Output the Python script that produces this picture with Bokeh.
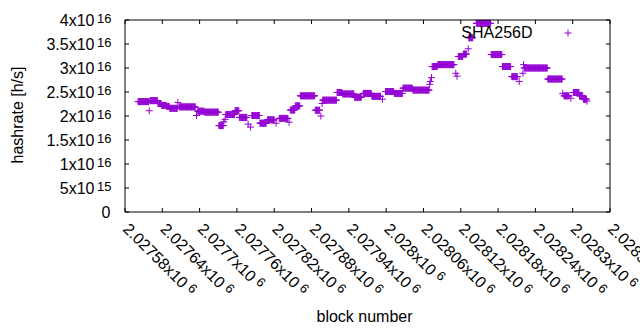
import numpy as np
from bokeh.plotting import figure
from bokeh.models import Range1d
from bokeh.core.properties import value
from bokeh.embed import file_html
from bokeh.resources import INLINE

# ---------------- data ----------------
# runs of consecutive blocks that share the same hashrate estimate
run_first_block = [2027601, 2027620, 2027633, 2027639, 2027647, 2027652, 2027667, 2027697,
                   2027708, 2027731, 2027742, 2027757, 2027764, 2027784, 2027797, 2027809,
                   2027828, 2027846, 2027854, 2027862, 2027886, 2027898, 2027921, 2027930,
                   2027949, 2027963, 2027977, 2027999, 2028013, 2028027, 2028043, 2028074,
                   2028083, 2028116, 2028124, 2028133, 2028145, 2028169, 2028187, 2028202,
                   2028222, 2028260, 2028286, 2028301, 2028311, 2028317]
run_last_block = [2027618, 2027632, 2027638, 2027646, 2027651, 2027664, 2027693, 2027707,
                  2027730, 2027738, 2027756, 2027763, 2027776, 2027796, 2027807, 2027820,
                  2027842, 2027853, 2027861, 2027885, 2027893, 2027920, 2027929, 2027948,
                  2027960, 2027976, 2027991, 2028012, 2028026, 2028042, 2028069, 2028082,
                  2028109, 2028123, 2028129, 2028139, 2028168, 2028186, 2028200, 2028211,
                  2028259, 2028283, 2028294, 2028310, 2028316, 2028322]
run_hashrate_e16 = [2.30, 2.32, 2.26, 2.22, 2.20, 2.16, 2.19, 2.10,
                    2.08, 1.80, 2.03, 2.11, 1.97, 2.01, 1.85, 1.92,
                    1.95, 2.125, 2.21, 2.42, 2.12, 2.33, 2.49, 2.46,
                    2.39, 2.47, 2.41, 2.51, 2.47, 2.58, 2.54, 3.03,
                    3.07, 3.24, 3.29, 3.63, 3.93, 3.28, 3.03, 2.82,
                    3.00, 2.77, 2.42, 2.49, 2.42, 2.35]
# isolated blocks
single_block = [2027619, 2027665, 2027695, 2027739, 2027741, 2027778, 2027782, 2027823,
                2027844, 2027895, 2027897, 2027994, 2028070, 2028071, 2028073, 2028112,
                2028114, 2028132, 2028214, 2028220, 2028221, 2028284, 2028297, 2028323]
single_hashrate_e16 = [2.11, 2.28, 2.01, 1.88, 1.93, 1.83, 1.77, 1.85,
                       1.87, 2.00, 2.26, 2.35, 2.66, 2.72, 2.80, 2.89,
                       2.83, 3.40, 2.72, 2.89, 3.07, 2.47, 2.37, 2.31]

series_name = "SHA256D"

x_tick_values = [2027580, 2027640, 2027700, 2027760, 2027820, 2027880, 2027940,
                 2028000, 2028060, 2028120, 2028180, 2028240, 2028300, 2028360]
x_tick_mantissa = ["2.02758", "2.02764", "2.0277", "2.02776", "2.02782", "2.02788", "2.02794",
                   "2.028", "2.02806", "2.02812", "2.02818", "2.02824", "2.0283", "2.02836"]
x_tick_exponent = "6"
y_tick_values = [0, 5e15, 1e16, 1.5e16, 2e16, 2.5e16, 3e16, 3.5e16, 4e16]
y_tick_mantissa = ["0", "5", "1", "1.5", "2", "2.5", "3", "3.5", "4"]
y_tick_exponent = ["", "15", "16", "16", "16", "16", "16", "16", "16"]

x_title = "block number"
y_title = "hashrate [h/s]"

# ---------------- build point list ----------------
blocks, rates = [], []
for a, b, v in zip(run_first_block, run_last_block, run_hashrate_e16):
    for blk in range(a, b + 1):
        blocks.append(blk)
        rates.append(v * 1e16)
for blk, v in zip(single_block, single_hashrate_e16):
    blocks.append(blk)
    rates.append(v * 1e16)

# ---------------- layout (pixels on the canvas) ----------------
FONT = "Liberation Sans"
FS = 16
SUP = 13
COLOR = "#9400D3"
W, H = 640, 330
FL, FR, FT, FB = 124.5, 609.5, 19.5, 211.5   # plot frame edges
TICK = 4

x0, x1 = x_tick_values[0], x_tick_values[-1]
y0, y1 = y_tick_values[0], y_tick_values[-1]
kx = (FR - FL) / (x1 - x0)
ky = (FB - FT) / (y1 - y0)

def X(px):
    return x0 + (px - FL) / kx

def Y(py):
    return y0 + (FB - py) / ky

p = figure(width=W, height=H, x_range=Range1d(X(0), X(W)), y_range=Range1d(Y(H), Y(0)),
           output_backend="svg", toolbar_location=None, min_border=0)
p.axis.visible = False
p.grid.visible = False
p.outline_line_color = None
p.background_fill_color = "white"
p.border_fill_color = "white"

# data
p.scatter(blocks, rates, marker="cross", size=7, line_color=COLOR, line_width=1)

# frame
p.line([x0, x1, x1, x0, x0], [y0, y0, y1, y1, y0], line_color="black", line_width=1,
       line_join="miter")

# ticks (inward, mirrored)
dxt = TICK / kx
dyt = TICK / ky
xt = list(x_tick_values)
yt = list(y_tick_values)
p.segment(x0=xt + xt, y0=[y0] * len(xt) + [y1] * len(xt),
          x1=xt + xt, y1=[y0 + dyt] * len(xt) + [y1 - dyt] * len(xt),
          line_color="black", line_width=1)
p.segment(x0=[x0] * len(yt) + [x1] * len(yt), y0=yt + yt,
          x1=[x0 + dxt] * len(yt) + [x1 - dxt] * len(yt), y1=yt + yt,
          line_color="black", line_width=1)

txt = dict(text_font=value(FONT), text_color="black")

# y tick labels with superscript exponent
main_x, main_y, main_t, sup_x, sup_y, sup_t = [], [], [], [], [], []
zero_x, zero_y, zero_t = [], [], []
for val, man, ex in zip(y_tick_values, y_tick_mantissa, y_tick_exponent):
    if ex:
        main_x.append(X(FL - 30.5)); main_y.append(val); main_t.append(man + "x10")
        sup_x.append(X(FL - 28)); sup_y.append(val + 1.5 / ky); sup_t.append(ex)
    else:
        zero_x.append(X(FL - 14.5)); zero_y.append(val); zero_t.append(man)
p.text(main_x, main_y, main_t, text_align="right", text_baseline="middle",
       text_font_size=value(f"{FS}px"), **txt)
p.text(zero_x, zero_y, zero_t, text_align="right", text_baseline="middle",
       text_font_size=value(f"{FS}px"), **txt)
p.text(sup_x, sup_y, sup_t, text_align="left", text_baseline="alphabetic",
       text_font_size=value(f"{SUP}px"), **txt)

# x tick labels rotated by -45 degrees
def text_width(s, fs):
    wd = {".": 0.278, "x": 0.5}
    return sum(wd.get(c, 0.556) for c in s) * fs

c45 = np.sqrt(0.5)
ANCHOR_DX, ANCHOR_DY = 1.0, 14.0   # baseline-left anchor relative to tick foot
GAP, RAISE = 4.0, 3.0
lx, ly, lt, sx, sy, st = [], [], [], [], [], []
for val, man in zip(x_tick_values, x_tick_mantissa):
    main = man + "x10"
    px = FL + (val - x0) * kx + ANCHOR_DX
    py = FB + ANCHOR_DY
    lx.append(X(px)); ly.append(Y(py)); lt.append(main)
    adv = text_width(main, FS) + GAP
    spx = px + adv * c45 + RAISE * c45
    spy = py + adv * c45 - RAISE * c45
    sx.append(X(spx)); sy.append(Y(spy)); st.append(x_tick_exponent)
p.text(lx, ly, lt, angle=-45, angle_units="deg", text_align="left", text_baseline="alphabetic",
       text_font_size=value(f"{FS}px"), **txt)
p.text(sx, sy, st, angle=-45, angle_units="deg", text_align="left", text_baseline="alphabetic",
       text_font_size=value(f"{SUP}px"), **txt)

# axis titles
p.text([X(16.5)], [Y(114.5)], [y_title], angle=90, angle_units="deg",
       text_align="center", text_baseline="middle", text_font_size=value(f"{FS}px"), **txt)
p.text([X(364)], [Y(316)], [x_title], text_align="center", text_baseline="middle",
       text_font_size=value(f"{FS}px"), **txt)

# key: text right-justified, sample to its right
p.text([X(532)], [Y(32)], [series_name], text_align="right", text_baseline="middle",
       text_font_size=value(f"{FS}px"), **txt)
p.scatter([X(567.5)], [Y(32.5)], marker="cross", size=7, line_color=COLOR, line_width=1)

open("out.html", "w").write(file_html(p, INLINE))
